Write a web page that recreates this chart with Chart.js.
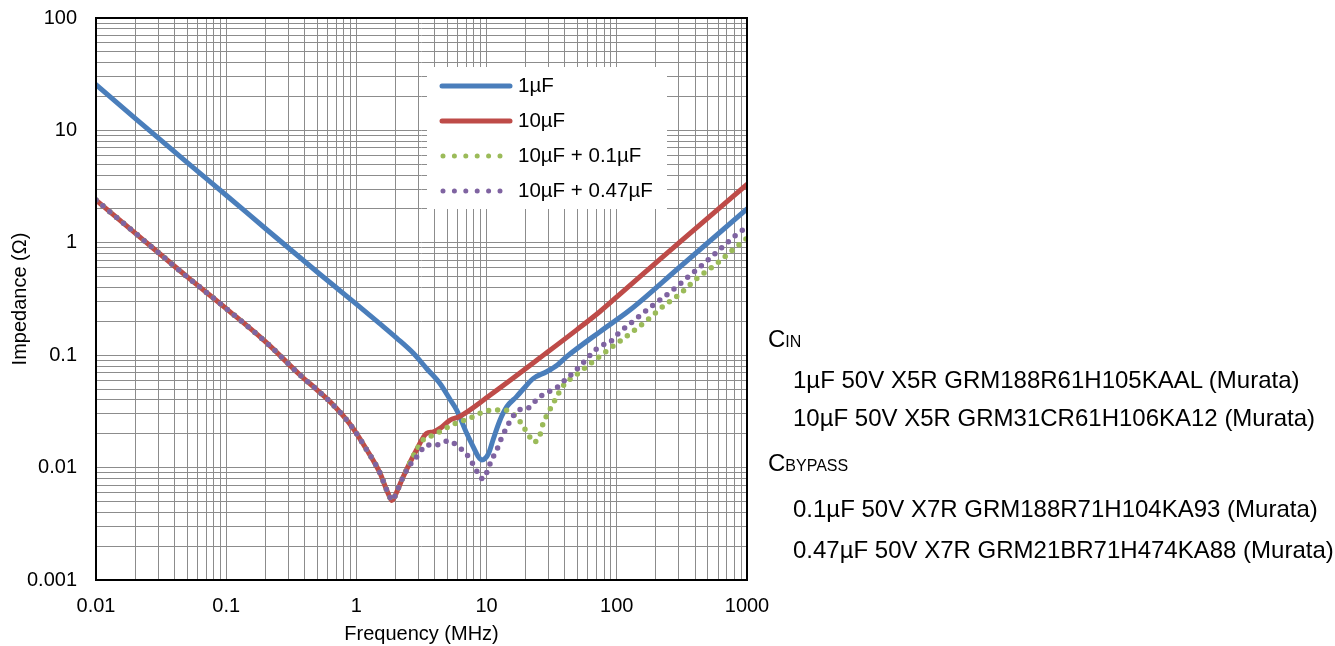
<!DOCTYPE html>
<html>
<head>
<meta charset="utf-8">
<script src="https://cdn.jsdelivr.net/npm/chart.js@4/dist/chart.umd.min.js"></script>
<style>
  body { margin: 0; background: #fff; font-family: 'Liberation Sans', Arial, sans-serif; }
  #wrap { position: relative; width: 1335px; height: 646px; }
  .note { position: absolute; font-size: 24px; line-height: 30px; color: #000; white-space: nowrap; }
  .note .sub { font-size: 16px; }
</style>
</head>
<body>
<div id="wrap">
  <canvas id="chart" width="1335" height="646"></canvas>
  <div class="note" style="left:768px; top:324px;">C<span class="sub">IN</span></div>
  <div class="note" style="left:793px; top:365px;">1µF 50V X5R GRM188R61H105KAAL (Murata)</div>
  <div class="note" style="left:793px; top:403px;">10µF 50V X5R GRM31CR61H106KA12 (Murata)</div>
  <div class="note" style="left:768px; top:448px;">C<span class="sub">BYPASS</span></div>
  <div class="note" style="left:793px; top:494px;">0.1µF 50V X7R GRM188R71H104KA93 (Murata)</div>
  <div class="note" style="left:793px; top:535px;">0.47µF 50V X7R GRM21BR71H474KA88 (Murata)</div>
</div>
<script>
// Impedance vs frequency (MHz, ohm)
const freq1uF = [0.01, 0.02, 0.05, 0.1, 0.2, 0.5, 1, 1.52, 2.04, 2.74, 3.5, 4.38, 5.2, 5.89, 7.03, 8.0, 8.6, 9.16, 9.7, 10.4, 11.2, 12.6, 14.3, 17, 20, 22.9, 28.9, 35, 41.2, 74.3, 126, 300, 1000];
const z1uF    = [25.5, 12.8, 5.2, 2.65, 1.34, 0.55, 0.285, 0.19, 0.142, 0.104, 0.075, 0.056, 0.041, 0.0325, 0.0202, 0.0148, 0.0126, 0.0117, 0.012, 0.0135, 0.0176, 0.026, 0.0348, 0.0428, 0.053, 0.0622, 0.0713, 0.082, 0.097, 0.162, 0.252, 0.6, 2.0];

const freq10uF = [0.01, 0.02, 0.05, 0.1, 0.2, 0.369, 0.5, 0.665, 0.9, 1.2, 1.52, 1.7, 1.8, 1.87, 1.95, 2.08, 2.29, 2.9, 3.46, 3.89, 4.5, 5.24, 6.2, 10.6, 28.9, 49.2, 74.3, 100, 300, 1000];
const z10uF    = [2.4, 1.22, 0.5, 0.26, 0.132, 0.0667, 0.049, 0.036, 0.024, 0.0144, 0.0089, 0.0064, 0.0055, 0.0051, 0.0054, 0.0064, 0.0083, 0.0144, 0.0202, 0.0208, 0.0228, 0.0265, 0.0285, 0.044, 0.105, 0.168, 0.245, 0.33, 1.0, 3.3];

const freq10uF01 = [0.01, 0.02, 0.05, 0.1, 0.2, 0.369, 0.5, 0.665, 0.9, 1.2, 1.52, 1.7, 1.8, 1.87, 1.95, 2.08, 2.29, 2.9, 3.25, 3.89, 4.6, 5.4, 6.5, 7.9, 9.4, 11.6, 13.7, 16.2, 18.4, 20.4, 22.0, 22.9, 24.0, 25.7, 27.1, 29.6, 32.5, 35.8, 40.2, 46.9, 54.8, 89, 101, 166, 227, 305, 413, 574, 790, 1000];
const z10uF01    = [2.4, 1.22, 0.5, 0.26, 0.132, 0.0667, 0.049, 0.036, 0.024, 0.0144, 0.0089, 0.0064, 0.0055, 0.0051, 0.0054, 0.0064, 0.0083, 0.0144, 0.0176, 0.0194, 0.0215, 0.0239, 0.026, 0.0284, 0.0313, 0.0325, 0.0325, 0.0296, 0.0249, 0.0205, 0.0179, 0.0168, 0.0172, 0.0195, 0.0245, 0.0304, 0.0373, 0.0461, 0.0565, 0.0645, 0.0744, 0.115, 0.128, 0.199, 0.272, 0.35, 0.483, 0.64, 0.88, 1.1];

const freq10uF047 = [0.01, 0.02, 0.05, 0.1, 0.2, 0.369, 0.5, 0.665, 0.9, 1.2, 1.52, 1.7, 1.8, 1.87, 1.95, 2.08, 2.29, 2.6, 2.98, 3.46, 4.1, 5.1, 6.07, 7.0, 7.8, 8.5, 9.0, 9.35, 9.8, 10.3, 11.1, 12.1, 13.0, 14.3, 15.7, 18.2, 21.5, 24.6, 29.3, 34.9, 40.7, 47.2, 54, 74, 88, 101, 140, 191, 262, 355, 485, 658, 890, 1000];
const z10uF047    = [2.4, 1.22, 0.5, 0.26, 0.132, 0.0667, 0.049, 0.036, 0.024, 0.0144, 0.0089, 0.0064, 0.0055, 0.0051, 0.0054, 0.0064, 0.0083, 0.0107, 0.0129, 0.0159, 0.0159, 0.0173, 0.0153, 0.0132, 0.0109, 0.0091, 0.0082, 0.0079, 0.0084, 0.0099, 0.0121, 0.0148, 0.0183, 0.0228, 0.0279, 0.033, 0.0344, 0.0412, 0.0465, 0.0519, 0.0613, 0.0712, 0.0835, 0.12, 0.13, 0.153, 0.21, 0.28, 0.37, 0.5, 0.68, 0.93, 1.26, 1.36];

const seriesNames = ['1µF', '10µF', '10µF + 0.1µF', '10µF + 0.47µF'];
const seriesColors = ['#4a7ebb', '#be4b48', '#9bbb59', '#7f63a1'];

const xDecades = [0.01, 0.1, 1, 10, 100, 1000];
const xTickLabels = ['0.01', '0.1', '1', '10', '100', '1000'];
const yDecades = [0.001, 0.01, 0.1, 1, 10, 100];
const yTickLabels = ['0.001', '0.01', '0.1', '1', '10', '100'];

const FONT = "'Liberation Sans', Arial, sans-serif";

function toPoints(fs, zs) {
    return fs.map((f, i) => ({ x: f, y: zs[i] }));
}

// all 1..9 x 10^n positions so every minor grid line is drawn
function logTicks(decades) {
    const out = [];
    decades.forEach((d, i) => {
        if (i === decades.length - 1) { out.push(d); return; }
        for (let m = 1; m <= 9; m++) out.push(Number((m * d).toPrecision(3)));
    });
    return out.map(v => ({ value: v }));
}

function decadeLabel(decades, labels) {
    return (v) => {
        const i = decades.findIndex(d => Math.abs(d - v) / d < 1e-6);
        return i >= 0 ? labels[i] : '';
    };
}

const solid = (i) => ({
    label: seriesNames[i],
    borderColor: seriesColors[i],
    borderWidth: 5,
    borderCapStyle: 'round',
    order: 3 - i,
});
const dotted = (i) => ({
    label: seriesNames[i],
    borderColor: seriesColors[i],
    borderWidth: 5.5,
    borderDash: [0, 9],
    borderCapStyle: 'round',
    order: 3 - i,
});

// Legend box floating inside the plot area, plus full frame around it
const framePlugin = {
    id: 'frameAndLegend',
    afterDraw(chart) {
        const { ctx, chartArea: a } = chart;
        ctx.save();
        ctx.strokeStyle = '#000';
        ctx.lineWidth = 2;
        ctx.strokeRect(a.left, a.top, a.right - a.left, a.bottom - a.top);

        ctx.fillStyle = '#fff';
        ctx.fillRect(427, 67, 240, 142);
        const rows = [86, 121, 156, 191];
        ctx.font = '20.5px ' + FONT;
        ctx.textBaseline = 'middle';
        ctx.textAlign = 'left';
        chart.data.datasets.forEach((ds, i) => {
            const y = rows[i];
            ctx.beginPath();
            ctx.strokeStyle = ds.borderColor;
            ctx.lineWidth = 5;
            ctx.lineCap = 'round';
            if (ds.borderDash) {
                ctx.setLineDash([0, 11.4]);
                ctx.moveTo(443, y);
                ctx.lineTo(501, y);
            } else {
                ctx.setLineDash([]);
                ctx.moveTo(442, y);
                ctx.lineTo(510, y);
            }
            ctx.stroke();
            ctx.fillStyle = '#000';
            ctx.fillText(ds.label, 518, y);
        });
        ctx.restore();
    }
};

const ctx = document.getElementById('chart').getContext('2d');
new Chart(ctx, {
    type: 'line',
    data: {
        datasets: [
            { ...solid(0), data: toPoints(freq1uF, z1uF) },
            { ...solid(1), data: toPoints(freq10uF, z10uF) },
            { ...dotted(2), data: toPoints(freq10uF01, z10uF01) },
            { ...dotted(3), data: toPoints(freq10uF047, z10uF047) },
        ]
    },
    options: {
        responsive: false,
        animation: false,
        layout: { padding: { top: 18, right: 588, left: 0, bottom: 0 } },
        elements: {
            point: { radius: 0, hoverRadius: 0 },
            line: { cubicInterpolationMode: 'monotone', fill: false },
        },
        plugins: {
            legend: { display: false },
            tooltip: { enabled: false },
        },
        scales: {
            x: {
                type: 'logarithmic',
                min: 0.01,
                max: 1000,
                afterBuildTicks: (s) => { s.ticks = logTicks(xDecades); },
                afterFit: (s) => { s.height = 66; },
                ticks: {
                    autoSkip: false,
                    maxRotation: 0,
                    minRotation: 0,
                    padding: 14,
                    color: '#000',
                    font: { family: FONT, size: 20 },
                    callback: decadeLabel(xDecades, xTickLabels),
                },
                grid: { color: '#8c8c8c', lineWidth: 1, drawTicks: false },
                border: { display: false },
                title: {
                    display: true,
                    text: 'Frequency (MHz)',
                    color: '#000',
                    font: { family: FONT, size: 20 },
                    padding: { top: 0, bottom: 0 },
                },
            },
            y: {
                type: 'logarithmic',
                min: 0.001,
                max: 100,
                afterBuildTicks: (s) => { s.ticks = logTicks(yDecades); },
                afterFit: (s) => { s.width = 96; },
                ticks: {
                    autoSkip: false,
                    padding: 0,
                    color: '#000',
                    font: { family: FONT, size: 20 },
                    callback: decadeLabel(yDecades, yTickLabels),
                },
                // invisible tick marks push the labels away from the frame
                grid: { color: '#8c8c8c', lineWidth: 1, drawTicks: true, tickLength: 19, tickColor: 'rgba(0,0,0,0)' },
                border: { display: false },
                title: {
                    display: true,
                    text: 'Impedance (Ω)',
                    color: '#000',
                    font: { family: FONT, size: 20 },
                    padding: { top: 8, bottom: 0 },
                },
            },
        },
    },
    plugins: [framePlugin],
});
</script>
</body>
</html>
